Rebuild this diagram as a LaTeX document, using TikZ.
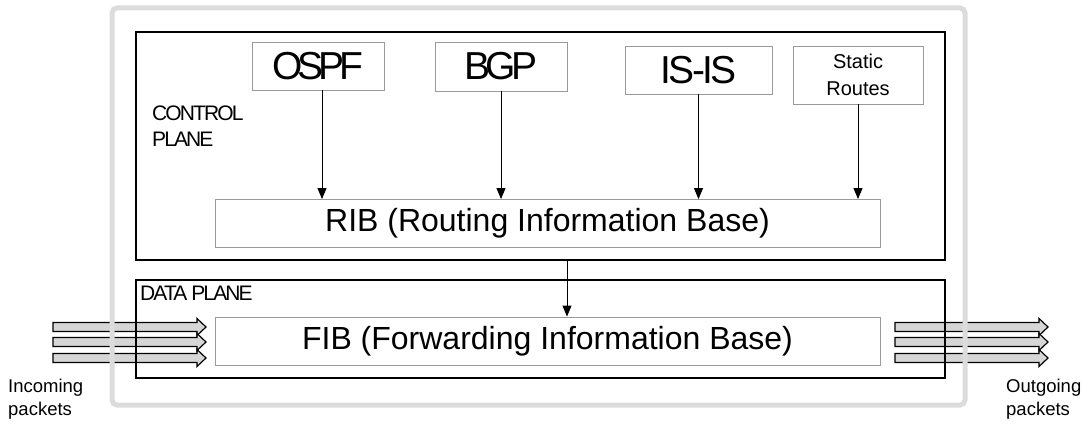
\documentclass[tikz,border=0pt]{standalone}
\usepackage{fontspec}
\setmainfont{Liberation Sans}
\newfontfamily\bigtight[LetterSpace=-13]{Liberation Sans}
\newfontfamily\midtight[LetterSpace=-7]{Liberation Sans}
\newfontfamily\captight[LetterSpace=-9]{Liberation Sans}
\usetikzlibrary{arrows.meta}

\definecolor{framegray}{HTML}{DCDCDC}
\definecolor{boxgray}{HTML}{9A9A9A}
\definecolor{pktfill}{HTML}{D6D6D6}

\tikzset{
  proto/.style={draw=boxgray, line width=0.9pt, fill=white, inner sep=0pt,
    align=center, font=\bigtight\fontsize{39}{39}\selectfont},
  base/.style={draw=boxgray, line width=0.9pt, fill=white, inner sep=0pt,
    minimum width=665, minimum height=48, font=\fontsize{32}{32}\selectfont},
  plane/.style={draw=black, line width=1.4pt, inner sep=0pt},
  planelabel/.style={inner sep=0pt, align=left, anchor=north west,
    font=\captight\fontsize{21}{26}\selectfont},
  feed/.style={draw=black, line width=0.9pt, -{Triangle[length=11pt,width=9pt]}},
  pkt/.style={draw=black, fill=pktfill, line width=1.2pt, line join=miter},
  caption/.style={inner sep=0pt, align=left, anchor=north west,
    font=\fontsize{18.5}{23}\selectfont}
}

% packet arrow: from x=#1 to tip x=#2 at height #3
\newcommand\pktarrow[3]{%
  \draw[pkt] (#1,#3-4.5) -- (#2-9,#3-4.5) -- (#2-9,#3-8.5) -- (#2,#3)
    -- (#2-9,#3+8.5) -- (#2-9,#3+4.5) -- (#1,#3+4.5) -- cycle;}

\begin{document}
\begin{tikzpicture}[x=1pt,y=-1pt]
\useasboundingbox (0,0) rectangle (1084,428);

% incoming and outgoing packet streams
\foreach \yy in {327,342,358} {
  \pktarrow{53}{206}{\yy}
  \pktarrow{895}{1048}{\yy}
}

% router chassis
\draw[framegray, line width=5pt, rounded corners=5pt] (112,8) rectangle (965,405);

% control and data planes
\node[plane, minimum width=809, minimum height=228] (ctrl) at (540.5,146) {};
\node[plane, minimum width=809, minimum height=98] (data) at (540.5,329) {};

\node[planelabel] (ctrllbl) at (152,106) {CONTROL\\PLANE};
\node[planelabel] (datalbl) at (140,286) {DATA PLANE};

% routing sources
\node[proto, minimum width=132, minimum height=48] (ospf) at (318,66) {OSPF};
\node[proto, minimum width=132, minimum height=49] (bgp) at (501,66.5) {BGP};
\node[proto, minimum width=147, minimum height=48,
      font=\midtight\fontsize{39}{39}\selectfont] (isis) at (698.5,70) {IS-IS};
\node[proto, minimum width=130, minimum height=58,
      font=\fontsize{20}{27}\selectfont] (static) at (858,75) {Static\\Routes};

% tables
\node[base] (rib) at (547.5,223.5) {RIB (Routing Information Base)};
\node[base] (fib) at (547.5,341) {FIB (Forwarding Information Base)};

% route feeds
\draw[feed] ([xshift=4pt]ospf.south) -- ([xshift=4pt]ospf.south |- rib.north);
\draw[feed] (bgp.south) -- (bgp.south |- rib.north);
\draw[feed] (isis.south) -- (isis.south |- rib.north);
\draw[feed] (static.south) -- (static.south |- rib.north);

% RIB downloads into FIB
\coordinate (dl) at (567,0);
\draw[feed] (dl |- ctrl.south) -- (dl |- fib.north);

% captions
\node[caption] (inlbl) at (8,379) {Incoming\\packets};
\node[caption] (outlbl) at (1006,379) {Outgoing\\packets};
\end{tikzpicture}
\end{document}
